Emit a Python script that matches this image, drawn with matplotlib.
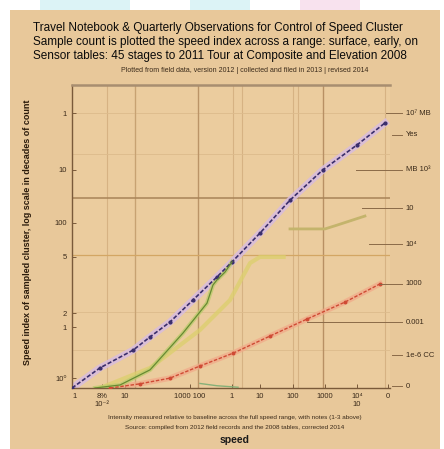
import numpy as np
import matplotlib
matplotlib.use("Agg")
import matplotlib.pyplot as plt
from matplotlib.patches import Rectangle

plt.rcParams["font.family"] = ["Liberation Sans", "DejaVu Sans"]

# series, as log10 decades on both axes
blue_x = [0, 0.79, 1.73, 2.21, 2.77, 3.42, 4.10, 4.53, 5.32, 6.17, 7.10, 8.07, 8.86]
blue_y = [0, 0.53, 1.00, 1.35, 1.74, 2.32, 2.93, 3.33, 4.09, 4.96, 5.76, 6.42, 7.00]

green_x = [0.65, 1.36, 2.21, 3.14, 3.82, 3.99, 4.10, 4.33, 4.53]
green_y = [0.00, 0.08, 0.48, 1.45, 2.24, 2.72, 2.85, 3.06, 3.33]

yellow_x = [0.80, 2.21, 3.62, 4.47, 5.04, 5.32, 5.99]
yellow_y = [0.00, 0.53, 1.53, 2.32, 3.30, 3.46, 3.46]

olive_x = [6.17, 7.16, 7.50, 8.29]
olive_y = [4.20, 4.20, 4.30, 4.54]

red_x = [1.08, 1.92, 2.77, 3.62, 4.56, 5.60, 6.65, 7.73, 8.72]
red_y = [0.00, 0.11, 0.26, 0.58, 0.92, 1.37, 1.82, 2.27, 2.75]

stub_x = [3.62, 4.10, 4.70]
stub_y = [0.12, 0.06, 0.02]

# reference levels
ref_levels = [5.02, 3.51]

# tick labels
x_ticks = [0.08, 0.85, 1.5, 3.34, 4.53, 5.32, 6.26, 7.16, 8.07, 8.94]
x_labels = ["1", "8%\n10\u207b\u00b2", "10", "1000 100", "1", "10", "100", "1000",
            "10\u2074\n10", "0"]
y_ticks = [0.26, 1.61, 1.98, 3.46, 4.36, 5.76, 7.26]
y_labels = ["10\u2070", "1", "2", "5", "100", "10", "1"]
grid_x = [0.99, 1.78, 4.55, 4.80, 6.26, 6.40, 8.86]
grid_y = [1.0, 2.0, 6.17, 7.26]

# right-hand notes: (y, leader start x, text)
notes = [(7.26, 8.90, "10\u2077 MB"), (6.68, 9.05, "Yes"), (5.76, 8.05, "MB 10\u00b3"),
         (4.75, 8.20, "10"), (3.79, 8.40, "10\u2074"), (2.75, 8.72, "1000"),
         (1.74, 6.65, "0.001"), (0.87, 9.05, "1e-6 CC"), (0.05, 9.05, "0")]

fig = plt.figure(figsize=(4.44, 4.49), dpi=100, facecolor="white")
fig.patches.append(Rectangle((10 / 444, 0), 430 / 444, 439 / 449, transform=fig.transFigure,
                             facecolor="#e8c89a", edgecolor="none", zorder=-10))
for x0, w, c in [(40, 90, "#dcf3f6"), (190, 60, "#dcf3f6"), (300, 60, "#f8e2ee")]:
    fig.patches.append(Rectangle((x0 / 444, 439 / 449), w / 444, 10 / 449,
                                 transform=fig.transFigure, facecolor=c,
                                 edgecolor="none", zorder=-10))

ax = fig.add_axes([72 / 444, 61 / 449, 318 / 444, 303 / 449])
ax.set_facecolor("#ebcc9e")
ax.set_xlim(0, 9)
ax.set_ylim(0, 8)

for gx in grid_x:
    ax.axvline(gx, color="#d6b283", lw=0.8, zorder=1)
for gy in grid_y:
    ax.axhline(gy, color="#dcbb8c", lw=0.6, zorder=1)
ax.axvline(1.78, color="#c7a272", lw=0.9, zorder=1)
ax.axvline(3.57, color="#bb9467", lw=1.0, zorder=1)
ax.axvline(7.10, color="#b89064", lw=1.0, zorder=1)
ax.axhline(ref_levels[0], color="#a88458", lw=1.1, zorder=1)
ax.axhline(ref_levels[1], color="#d3a664", lw=0.9, zorder=1)

# wide pale bands under the main lines
ax.plot(blue_x, blue_y, color="#d8bce0", lw=5, alpha=0.85, zorder=2)
ax.plot(red_x, red_y, color="#f2a888", lw=4, alpha=0.7, zorder=2)
ax.plot(yellow_x, yellow_y, color="#dcd06c", lw=3, alpha=0.75, zorder=2)
ax.plot(olive_x, olive_y, color="#c4b46c", lw=2, zorder=2)
ax.plot(green_x, green_y, color="#bccb6c", lw=3, alpha=0.8, zorder=2)

ax.plot(blue_x, blue_y, color="#3a2e6c", lw=1.2, ls=(0, (2.5, 1.2)),
        marker="o", ms=2, zorder=3)
ax.plot(red_x, red_y, color="#cf4a34", lw=1.0, ls=(0, (2.5, 1.2)),
        marker="o", ms=1.8, zorder=3)
ax.plot(green_x, green_y, color="#678a32", lw=0.9, zorder=3)
ax.plot(stub_x, stub_y, color="#86b078", lw=1.0, zorder=3)

for ny, nx, txt in notes:
    ax.plot([nx, 9.35], [ny, ny], color="#8a6a48", lw=0.7, clip_on=False, zorder=3)
    ax.text(9.45, ny, txt, fontsize=5.5, color="#3a2a1a", va="center", ha="left",
            clip_on=False)

ax.set_xticks(x_ticks)
ax.set_xticklabels(x_labels, fontsize=5.5, color="#3a2a1a")
ax.set_yticks(y_ticks)
ax.set_yticklabels(y_labels, fontsize=5.5, color="#3a2a1a")
ax.tick_params(direction="in", length=3, color="#7a5a3a", width=0.7)
for s in ["left", "bottom"]:
    ax.spines[s].set_color("#7a5a3a")
    ax.spines[s].set_linewidth(1.0)
ax.spines["top"].set_color("#a88e70")
ax.spines["top"].set_linewidth(1.8)
ax.spines["right"].set_visible(False)

fig.text(28 / 444, 1 - 232 / 449,
         "Speed index of sampled cluster, log scale in decades of count",
         fontsize=6.5, fontweight="bold", color="#2a1a0a", rotation=90,
         va="center", ha="center")

title = ["Travel Notebook & Quarterly Observations for Control of Speed Cluster",
         "Sample count is plotted the speed index across a range: surface, early, on",
         "Sensor tables: 45 stages to 2011 Tour at Composite and Elevation 2008"]
for i, line in enumerate(title):
    fig.text(33 / 444, 1 - (28 + 14 * i) / 449, line, fontsize=8.5, color="#0a0a0a",
             va="center", ha="left")
fig.text(245 / 444, 1 - 70 / 449,
         "Plotted from field data, version 2012 | collected and filed in 2013 | revised 2014",
         fontsize=5, color="#3a2a1a", va="center", ha="center")

fig.text(235 / 444, 1 - 418 / 449,
         "Intensity measured relative to baseline across the full speed range, with notes (1-3 above)",
         fontsize=4.6, color="#3a2a1a", va="center", ha="center")
fig.text(235 / 444, 1 - 428 / 449,
         "Source: compiled from 2012 field records and the 2008 tables, corrected 2014",
         fontsize=4.6, color="#3a2a1a", va="center", ha="center")
fig.text(235 / 444, 1 - 440 / 449, "speed", fontsize=7.5, fontweight="bold",
         color="#1a1a1a", va="center", ha="center")

fig.savefig("out.png", dpi=100)
